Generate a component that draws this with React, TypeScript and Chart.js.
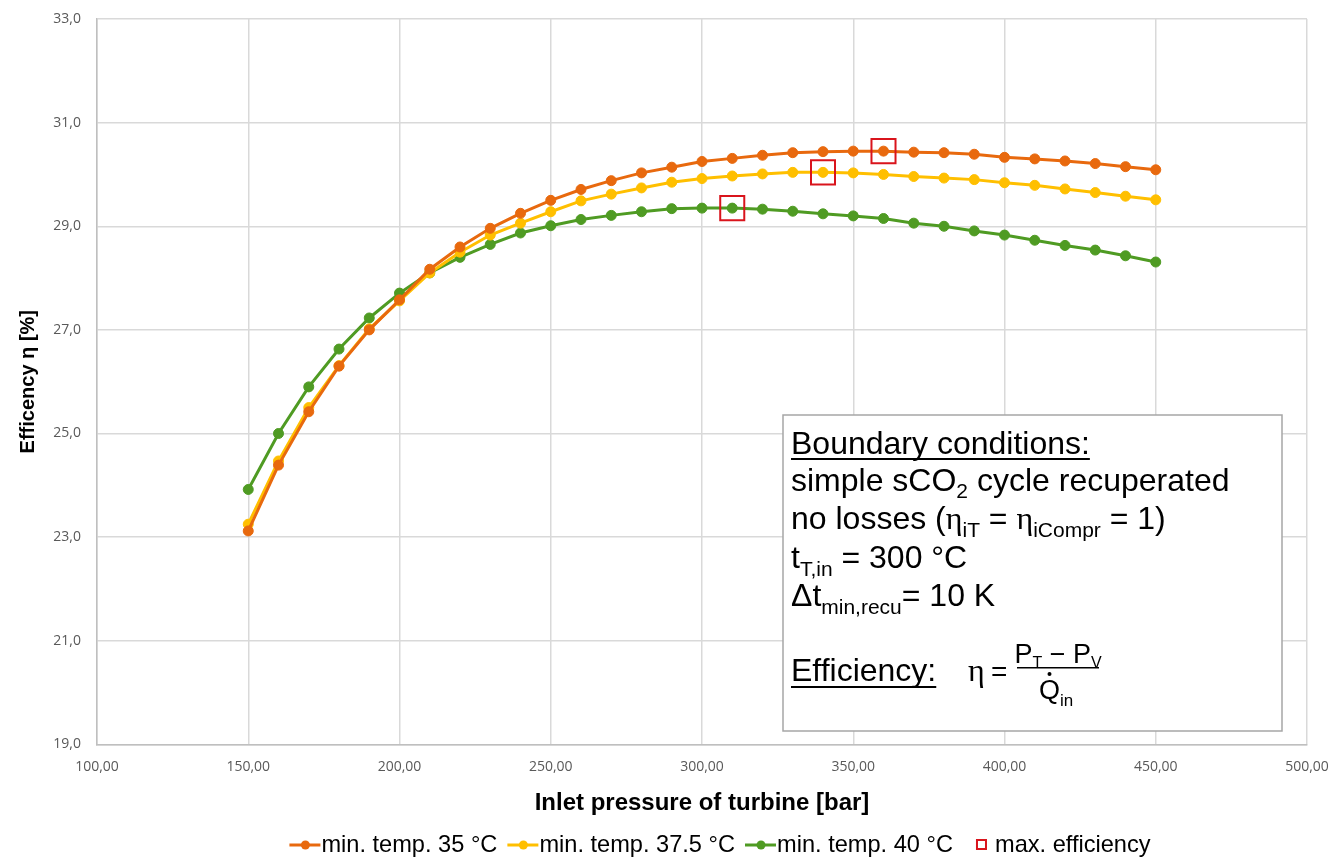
import React, { useEffect, useRef } from 'react';
import { Chart, registerables } from 'chart.js';

Chart.register(...registerables);

// ---------- data ----------
const pressures = [150, 160, 170, 180, 190, 200, 210, 220, 230, 240, 250, 260, 270, 280, 290, 300, 310, 320, 330, 340, 350, 360, 370, 380, 390, 400, 410, 420, 430, 440, 450];
const eff35 = [23.12, 24.39, 25.42, 26.3, 27.0, 27.58, 28.17, 28.6, 28.96, 29.25, 29.5, 29.71, 29.88, 30.03, 30.14, 30.25, 30.31, 30.37, 30.42, 30.44, 30.45, 30.45, 30.43, 30.42, 30.39, 30.33, 30.3, 30.26, 30.21, 30.15, 30.09];
const eff375 = [23.25, 24.47, 25.5, 26.31, 27.02, 27.56, 28.1, 28.5, 28.83, 29.06, 29.28, 29.49, 29.62, 29.74, 29.85, 29.92, 29.97, 30.01, 30.04, 30.04, 30.03, 30.0, 29.96, 29.93, 29.9, 29.84, 29.79, 29.72, 29.65, 29.58, 29.51];
const eff40 = [23.92, 25.0, 25.9, 26.63, 27.23, 27.71, 28.1, 28.4, 28.65, 28.87, 29.01, 29.13, 29.21, 29.28, 29.34, 29.35, 29.35, 29.33, 29.29, 29.24, 29.2, 29.15, 29.06, 29.0, 28.91, 28.83, 28.73, 28.63, 28.54, 28.43, 28.31];
const maxPressures = [360, 340, 310];
const maxEff = [30.45, 30.04, 29.35];
const seriesLabels = ['min. temp. 35 °C', 'min. temp. 37.5 °C', 'min. temp. 40 °C', 'max. efficiency'];
const xTickValues = [100, 150, 200, 250, 300, 350, 400, 450, 500];
const yTickValues = [19, 21, 23, 25, 27, 29, 31, 33];
const xTitle = 'Inlet pressure of turbine [bar]';
const yTitle = 'Efficency η [%]';

// ---------- style ----------
const ORANGE = '#E8690E';
const YELLOW = '#FFBF00';
const GREEN = '#4F9B23';
const RED = '#D9141C';
const SANS = '"Liberation Sans", Arial, sans-serif';
const SERIF = '"Liberation Serif", "Times New Roman", serif';

type Run = { t: string; sub?: boolean; u?: boolean; serif?: boolean };

function drawRuns(ctx: CanvasRenderingContext2D, x: number, y: number, list: Run[], size: number, subSize: number, subDy: number) {
  let cx = x;
  for (const r of list) {
    const s = r.sub ? subSize : size;
    ctx.font = `${s}px ${r.serif ? SERIF : SANS}`;
    const dy = r.sub ? subDy : 0;
    ctx.fillText(r.t, cx, y + dy);
    const w = ctx.measureText(r.t).width;
    if (r.u) ctx.fillRect(cx, y + 4, w, 2);
    cx += w;
  }
  return cx;
}

function measureRuns(ctx: CanvasRenderingContext2D, list: Run[], size: number, subSize: number) {
  let w = 0;
  for (const r of list) {
    ctx.font = `${r.sub ? subSize : size}px ${r.serif ? SERIF : SANS}`;
    w += ctx.measureText(r.t).width;
  }
  return w;
}

const boxPlugin = {
  id: 'boundaryBox',
  afterDatasetsDraw(chart: any) {
    const { ctx, chartArea } = chart;
    const left = chartArea.left + 686;
    const top = chartArea.top + 396;
    const w = 499;
    const h = 316;
    ctx.save();
    ctx.fillStyle = '#ffffff';
    ctx.fillRect(left, top, w, h);
    ctx.strokeStyle = '#a6a6a6';
    ctx.lineWidth = 1.5;
    ctx.strokeRect(left, top, w, h);
    ctx.fillStyle = '#000000';
    ctx.textBaseline = 'alphabetic';
    ctx.textAlign = 'left';
    const tx = left + 8;
    const size = 32, sub = 21, sdy = 8;
    drawRuns(ctx, tx, top + 39, [{ t: 'Boundary conditions:', u: true }], size, sub, sdy);
    drawRuns(ctx, tx, top + 76, [{ t: 'simple sCO' }, { t: '2', sub: true }, { t: ' cycle recuperated' }], size, sub, 7);
    drawRuns(ctx, tx, top + 114, [{ t: 'no losses (' }, { t: 'η', serif: true }, { t: 'iT', sub: true }, { t: ' = ' }, { t: 'η', serif: true }, { t: 'iCompr', sub: true }, { t: ' = 1)' }], size, sub, sdy);
    drawRuns(ctx, tx, top + 153, [{ t: 't' }, { t: 'T,in', sub: true }, { t: ' = 300 °C' }], size, sub, sdy);
    drawRuns(ctx, tx, top + 191, [{ t: 'Δt' }, { t: 'min,recu', sub: true }, { t: '= 10 K' }], size, sub, sdy);
    ctx.font = `${size}px ${SANS}`;
    const ew = ctx.measureText('Efficiency:').width;
    ctx.fillText('Efficiency:', tx, top + 266);
    ctx.fillRect(tx, top + 271, ew, 2);

    // formula
    ctx.font = `32px ${SERIF}`;
    ctx.fillText('η', left + 185, top + 266);
    ctx.font = `28px ${SANS}`;
    ctx.fillText('=', left + 208, top + 266);
    ctx.fillRect(left + 234, top + 252, 82, 1.5);
    const num: Run[] = [{ t: 'P' }, { t: 'T', sub: true }, { t: ' − P' }, { t: 'V', sub: true }];
    const nw = measureRuns(ctx, num, 27, 16);
    drawRuns(ctx, left + 275 - nw / 2, top + 248, num, 27, 16, 5);
    ctx.font = `27px ${SANS}`;
    const qx = left + 256;
    const qw = ctx.measureText('Q').width;
    ctx.fillText('Q', qx, top + 284);
    ctx.beginPath();
    ctx.arc(qx + qw / 2, top + 284 - 25, 2, 0, Math.PI * 2);
    ctx.fill();
    ctx.font = `17px ${SANS}`;
    ctx.fillText('in', qx + qw, top + 291);
    ctx.restore();
  },
};

const legendPlugin = {
  id: 'bottomLegend',
  afterDraw(chart: any) {
    const { ctx, chartArea } = chart;
    const items = chart.data.datasets.map((ds: any) => ({ text: ds.label as string, color: ds.borderColor as string, square: ds.showLine === false }));
    ctx.save();
    ctx.font = `23.6px ${SANS}`;
    ctx.textBaseline = 'middle';
    ctx.textAlign = 'left';
    const sym = 32;
    const gap = 10;
    const widths = items.map((it: any) => sym + ctx.measureText(it.text).width);
    const total = widths.reduce((a: number, b: number) => a + b, 0) + gap * (items.length - 1);
    let x = (chartArea.left + chartArea.right) / 2 + 18 - total / 2;
    const y = chart.height - 14;
    items.forEach((it: any, i: number) => {
      if (it.square) {
        ctx.strokeStyle = it.color;
        ctx.lineWidth = 2;
        ctx.strokeRect(x + 14, y - 5, 9, 9);
      } else {
        ctx.strokeStyle = it.color;
        ctx.lineWidth = 3;
        ctx.beginPath();
        ctx.moveTo(x, y);
        ctx.lineTo(x + sym - 1, y);
        ctx.stroke();
        ctx.fillStyle = it.color;
        ctx.beginPath();
        ctx.arc(x + sym / 2, y, 4.5, 0, Math.PI * 2);
        ctx.fill();
      }
      ctx.fillStyle = '#000';
      ctx.fillText(it.text, x + sym, y);
      x += widths[i] + gap;
    });
    ctx.restore();
  },
};

function lineSeries(label: string, values: number[], color: string) {
  return {
    label,
    data: pressures.map((p, i) => ({ x: p, y: values[i] })),
    borderColor: color,
    backgroundColor: color,
    borderWidth: 3,
    pointRadius: 5,
    pointBorderWidth: 1,
    pointBackgroundColor: color,
    pointBorderColor: color,
    tension: 0,
    order: 1,
  };
}

export default function App() {
  const ref = useRef<HTMLCanvasElement | null>(null);
  useEffect(() => {
    document.body.style.margin = '0';
    const canvas = ref.current;
    if (!canvas) return;
    const chart = new Chart(canvas, {
      type: 'line',
      data: {
        datasets: [
          lineSeries(seriesLabels[0], eff35, ORANGE),
          lineSeries(seriesLabels[1], eff375, YELLOW),
          lineSeries(seriesLabels[2], eff40, GREEN),
          {
            label: seriesLabels[3],
            data: maxPressures.map((p, i) => ({ x: p, y: maxEff[i] })),
            showLine: false,
            borderColor: RED,
            backgroundColor: 'rgba(0,0,0,0)',
            pointStyle: 'rect',
            pointRadius: 17,
            pointBorderWidth: 2,
            pointBorderColor: RED,
            pointBackgroundColor: 'rgba(0,0,0,0)',
            order: 0,
          } as any,
        ],
      },
      options: {
        animation: false,
        responsive: false,
        layout: { padding: { top: 18, right: 29, left: 0, bottom: 41 } },
        plugins: {
          legend: { display: false },
          tooltip: { enabled: false },
        },
        scales: {
          x: {
            type: 'linear',
            min: xTickValues[0],
            max: xTickValues[xTickValues.length - 1],
            afterBuildTicks: (scale: any) => {
              scale.ticks = xTickValues.map((v) => ({ value: v }));
            },
            afterFit: (scale: any) => {
              scale.paddingLeft = 0;
              scale.paddingRight = 0;
            },
            ticks: {
              padding: 14,
              color: '#595959',
              font: { family: '"Open Sans", sans-serif', size: 14 },
              callback: (v: any) => Number(v).toFixed(2).replace('.', ','),
              maxRotation: 0,
            },
            grid: { color: '#d9d9d9', lineWidth: 1.5, drawTicks: false },
            border: { color: '#bfbfbf', width: 1.5 },
            title: {
              display: true,
              text: xTitle,
              color: '#000',
              font: { family: SANS, size: 24, weight: 'bold' },
              padding: { top: 0, bottom: 0 },
            },
          },
          y: {
            type: 'linear',
            min: yTickValues[0],
            max: yTickValues[yTickValues.length - 1],
            afterBuildTicks: (scale: any) => {
              scale.ticks = yTickValues.map((v) => ({ value: v }));
            },
            afterFit: (scale: any) => {
              scale.width = 97;
              scale.paddingTop = 0;
              scale.paddingBottom = 0;
            },
            ticks: {
              padding: 16,
              color: '#595959',
              font: { family: '"Open Sans", sans-serif', size: 14 },
              callback: (v: any) => Number(v).toFixed(1).replace('.', ','),
            },
            grid: { color: '#d9d9d9', lineWidth: 1.5, drawTicks: false },
            border: { color: '#bfbfbf', width: 1.5 },
            title: {
              display: true,
              text: yTitle,
              color: '#000',
              font: { family: SANS, size: 20, weight: 'bold' },
              padding: { top: 16, bottom: 0 },
            },
          },
        },
      } as any,
      plugins: [boxPlugin, legendPlugin],
    });
    return () => chart.destroy();
  }, []);
  return (
    <div style={{ width: 1336, height: 859, position: 'relative' }}>
      <canvas ref={ref} width={1336} height={859} />
    </div>
  );
}
